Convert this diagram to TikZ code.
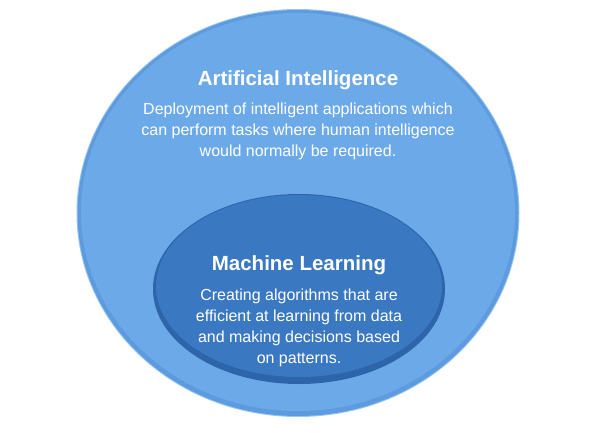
\documentclass[tikz,border=0pt]{standalone}
\usepackage{fontspec}
\setmainfont{Liberation Sans}
\usepackage{tikz}

\definecolor{aiblue}{RGB}{108,169,233}
\definecolor{airim}{RGB}{94,154,222}
\definecolor{aiedge}{RGB}{150,200,245}
\definecolor{mlblue}{RGB}{58,120,193}
\definecolor{mlrim}{RGB}{46,100,170}

\begin{document}
\begin{tikzpicture}[x=1pt, y=-1pt, every node/.style={text=white, align=center, inner sep=0pt},
	title/.style={font=\fontsize{20.5}{24}\selectfont\bfseries},
	body/.style={font=\fontsize{16}{21}\selectfont}]
	\useasboundingbox (0,0) rectangle (603,432);
	% outer set
	\fill[aiedge] (298,213) ellipse [x radius=221.5, y radius=204];
	\fill[airim] (298,213) ellipse [x radius=220.5, y radius=203];
	\fill[aiblue] (298,212) ellipse [x radius=217, y radius=199];
	% inner set
	\fill[mlrim] (299,289) ellipse [x radius=146, y radius=95];
	\fill[mlblue] (299,286) ellipse [x radius=143, y radius=91];
	\node[title] (aititle) at (298,80) {Artificial Intelligence};
	\node[body] (aitext) at (298,131) {Deployment of intelligent applications which\\can perform tasks where human intelligence\\would normally be required.};
	\node[title] (mltitle) at (299,265) {Machine Learning};
	\node[body] (mltext) at (299,328) {Creating algorithms that are\\efficient at learning from data\\and making decisions based\\on patterns.};
\end{tikzpicture}
\end{document}
